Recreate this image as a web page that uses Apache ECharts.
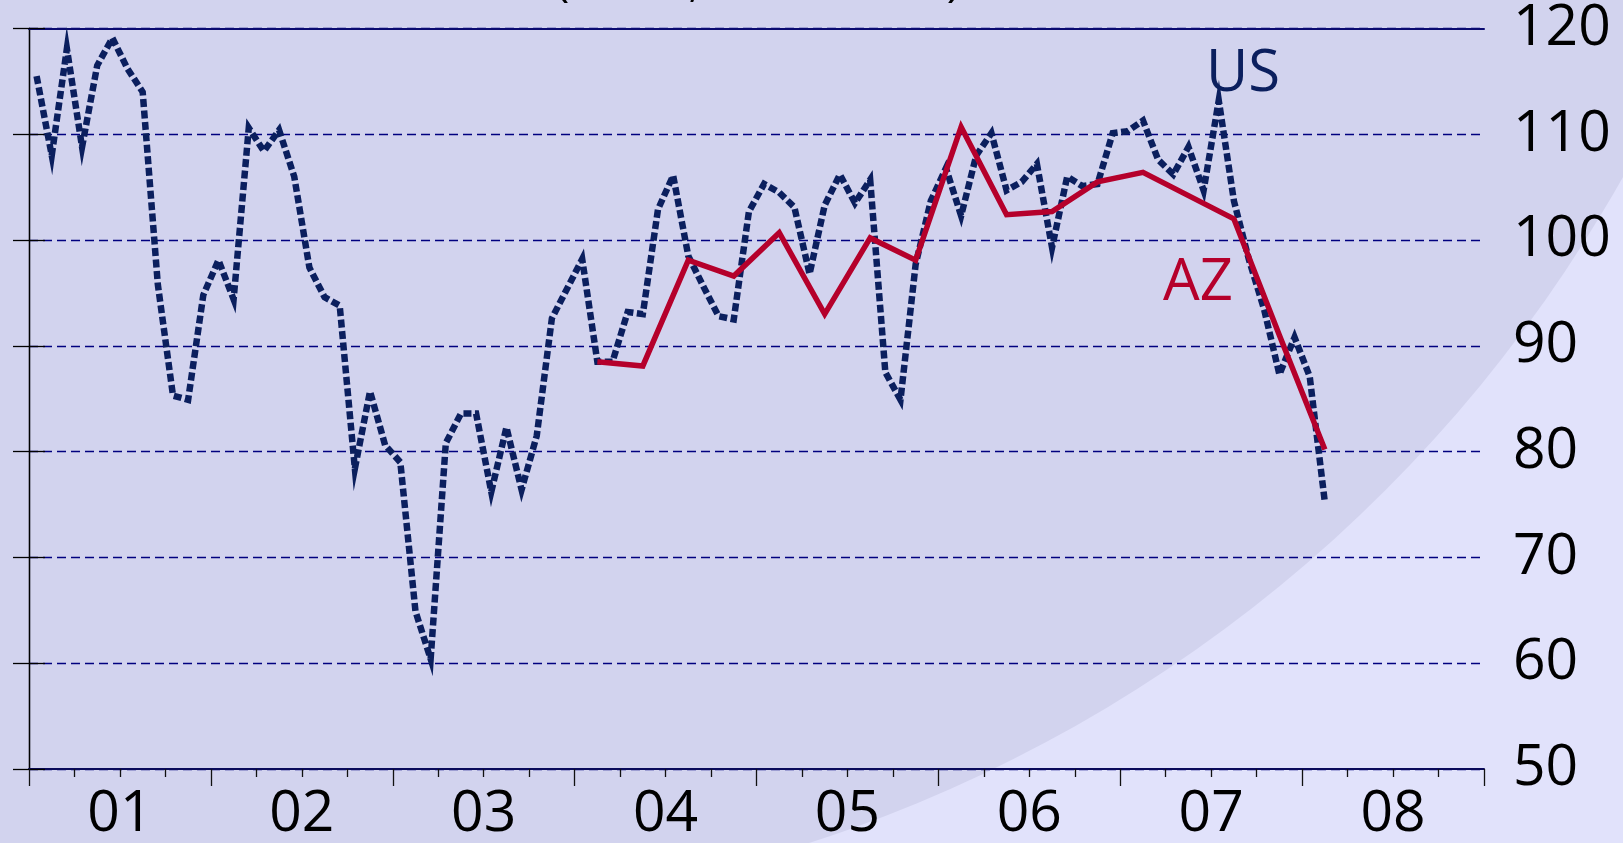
<!DOCTYPE html>
<html>
<head>
<meta charset="utf-8">
<script src="https://cdn.jsdelivr.net/npm/echarts@6/dist/echarts.min.js"></script>
<style>
  html, body { margin: 0; padding: 0; }
  #chart { width: 1623px; height: 843px; }
</style>
</head>
<body>
<div id="chart"></div>
<script>
// year labels, one per year, centred in the year
const yearLabels = ["01", "02", "03", "04", "05", "06", "07", "08"];
const yTicks = [50, 60, 70, 80, 90, 100, 110, 120];

// US: monthly, Jan 2001 .. Feb 2008
const usValues = [
  115.5, 108.0, 118.1, 108.8, 116.5, 119.1, 116.2, 114.0, 95.8, 85.3, 84.9, 94.8,
  98.1, 94.4, 110.6, 108.4, 110.4, 106.0, 97.4, 94.6, 93.8, 78.4, 85.7, 80.6,
  79.0, 64.9, 60.4, 80.8, 83.6, 83.6, 76.2, 82.3, 76.4, 81.5, 92.6, 95.4,
  98.2, 88.5, 88.5, 93.2, 93.0, 102.9, 106.1, 98.5, 95.6, 92.8, 92.5, 102.7,
  105.3, 104.5, 103.1, 96.8, 103.3, 106.2, 103.5, 105.7, 87.5, 84.9, 97.7, 103.7,
  106.8, 102.3, 108.0, 110.1, 104.7, 105.5, 107.2, 99.3, 106.0, 105.1, 105.3, 110.1,
  110.3, 111.3, 107.6, 106.2, 108.8, 104.7, 113.2, 103.7, 98.1, 93.4, 87.3, 90.8,
  87.1, 75.2
];
const usFirstMonth = 0; // Jan 2001

// AZ: quarterly, Feb 2004 .. Feb 2008
const azValues = [
  88.5, 88.1, 98.1, 96.6, 100.7, 93.0, 100.2, 98.1, 110.7,
  102.4, 102.7, 105.5, 106.4, 104.2, 102.0, 91.0, 80.2
];
const azFirstMonth = 37; // Feb 2004
const azStep = 3;

// month index -> x on a 0..96 month scale (mid-month)
const usData = usValues.map((v, i) => [usFirstMonth + i + 0.5, v]);
const azData = azValues.map((v, i) => [azFirstMonth + i * azStep + 0.5, v]);

const FONT = "Open Sans";
const NAVY = "#0b1f5e";
const RED = "#b5002b";
const GRID = "#00007f";

const chart = echarts.init(document.getElementById("chart"));

chart.setOption({
  backgroundColor: "#e1e2fb",
  animation: false,
  grid: { left: 29, right: 139, top: 28, bottom: 72 },
  graphic: [
    {
      // darker wash behind the plot, lighter corner bottom right
      type: "circle",
      z: -100,
      shape: { cx: 365, cy: -530, r: 1443 },
      style: { fill: "#d2d3ee" }
    },
    {
      // title sits mostly above the top edge; only the parentheses peek in
      type: "text",
      z: 100,
      x: 758,
      y: 6,
      style: {
        text: "(Index, 1985 = 100)",
        fill: "#000",
        font: "46px 'Open Sans'",
        textAlign: "center",
        textVerticalAlign: "bottom"
      }
    },
    {
      type: "text",
      z: 100,
      x: 1206,
      y: 74,
      style: {
        text: "US",
        fill: NAVY,
        font: "58px 'Open Sans'",
        textAlign: "left",
        textVerticalAlign: "middle"
      }
    },
    {
      type: "text",
      z: 100,
      x: 1163,
      y: 283,
      style: {
        text: "AZ",
        fill: RED,
        font: "58px 'Open Sans'",
        textAlign: "left",
        textVerticalAlign: "middle"
      }
    }
  ],
  xAxis: [
    {
      type: "value",
      position: "bottom",
      min: 0,
      max: 96,
      interval: 12,
      axisLine: { show: true, lineStyle: { color: "#0a0a5a", width: 2 } },
      axisTick: { show: true, inside: false, length: 17, lineStyle: { color: "#111", width: 1.3 } },
      minorTick: { show: true, splitNumber: 4, length: 8, lineStyle: { color: "#111", width: 1.3 } },
      axisLabel: {
        show: true,
        customValues: yearLabels.map((_, i) => i * 12 + 6),
        formatter: (v) => yearLabels[Math.round((v - 6) / 12)],
        fontFamily: FONT,
        fontSize: 57,
        color: "#000",
        margin: 17
      },
      splitLine: { show: false },
      minorSplitLine: { show: false }
    },
    {
      type: "value",
      position: "top",
      min: 0,
      max: 96,
      interval: 12,
      axisLine: { show: true, lineStyle: { color: "#0a0a70", width: 2 } },
      axisTick: { show: false },
      axisLabel: { show: false },
      splitLine: { show: false }
    }
  ],
  yAxis: [
    {
      type: "value",
      position: "left",
      min: 50,
      max: 120,
      interval: 10,
      axisLine: { show: true, lineStyle: { color: "#000", width: 1.3 } },
      axisTick: { show: true, inside: false, length: 16, lineStyle: { color: "#000", width: 1.3 } },
      axisLabel: { show: false },
      splitLine: { show: true, lineStyle: { color: GRID, width: 1.4, type: [9, 5] } }
    },
    {
      type: "value",
      position: "right",
      min: 50,
      max: 120,
      interval: 10,
      axisLine: { show: true, lineStyle: { color: "#000", width: 1.3 } },
      axisTick: { show: true, inside: false, length: 16, lineStyle: { color: "#000", width: 1.3 } },
      axisLabel: {
        show: true,
        customValues: yTicks,
        fontFamily: FONT,
        fontSize: 57,
        color: "#000",
        margin: 29
      },
      splitLine: { show: false }
    }
  ],
  series: [
    {
      name: "US",
      type: "line",
      xAxisIndex: 0,
      yAxisIndex: 0,
      data: usData,
      showSymbol: false,
      symbol: "none",
      lineStyle: {
        color: NAVY,
        width: 6.5,
        type: [8, 3.5],
        cap: "butt",
        join: "miter",
        miterLimit: 10
      },
      z: 3
    },
    {
      name: "AZ",
      type: "line",
      xAxisIndex: 0,
      yAxisIndex: 0,
      data: azData,
      showSymbol: false,
      symbol: "none",
      lineStyle: { color: RED, width: 5.5, join: "miter", miterLimit: 10 },
      z: 4
    }
  ]
});
</script>
</body>
</html>
